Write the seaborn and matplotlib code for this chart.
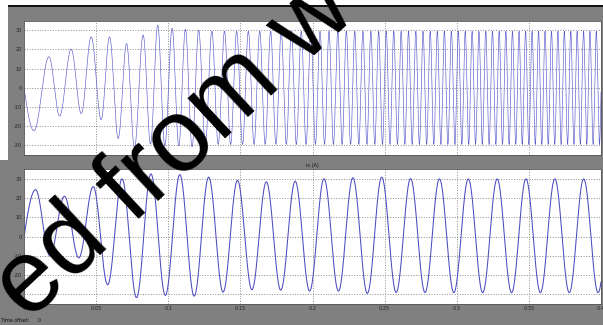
import numpy as np
import pandas as pd
import matplotlib
matplotlib.use("Agg")
import matplotlib.pyplot as plt
from matplotlib.patches import Rectangle
import seaborn as sns

# ---------------- data ----------------
# Top trace: extrema (time s, value) of the first cycles
top_ext_t = [0.0069, 0.0173, 0.0247, 0.0327, 0.0397, 0.0466, 0.0535, 0.0593,
             0.0653, 0.0711, 0.0766, 0.0826, 0.0877, 0.0927, 0.0976, 0.1027,
             0.1073, 0.1119, 0.1165, 0.1211]
top_ext_v = [-22.4, 16.2, -14.7, 20.2, -13.4, 26.6, -16.6, 26.6,
             -26.4, 23.1, -31.0, 27.6, -29.3, 32.6, -30.2, 31.0,
             -30.2, 30.5, -30.7, 30.0]
# Top trace, later part: oscillation period read at several times
top_period_t = [0.1211, 0.15, 0.20, 0.25, 0.30, 0.35, 0.40]
top_period_s = [0.0092, 0.0081, 0.0064, 0.0052, 0.0048, 0.0045, 0.0044]
top_late_peak = 29.5
top_late_trough = -29.5

# Bottom trace (is): 50 Hz, peak / trough values of each cycle
bot_first_peak_t = 0.008
bot_period = 0.02
bot_peaks = [24.4, 21.0, 26.0, 30.0, 32.6, 32.2, 30.9, 29.2, 28.5, 28.8,
             30.1, 30.6, 30.9, 30.2, 30.0, 30.0, 30.0, 30.0, 30.0, 30.0]
bot_troughs = [-10.0, -11.0, -25.0, -31.7, -30.5, -30.9, -28.8, -27.6, -27.8, -28.3,
               -28.3, -29.5, -29.0, -29.0, -29.1, -29.1, -29.1, -29.1, -29.1, -29.1]

x_ticks = [0, 0.05, 0.1, 0.15, 0.2, 0.25, 0.3, 0.35, 0.4]
x_tick_labels = ["0", "0.05", "0.1", "0.15", "0.2", "0.25", "0.3", "0.35", "0.4"]
y_ticks = [-30, -20, -10, 0, 10, 20, 30]
bottom_title = "is (A)"

# ---------------- build traces through the extrema ----------------
def trace_through_extrema(ext_t, ext_v, t):
    ext_t = np.asarray(ext_t); ext_v = np.asarray(ext_v)
    y = np.zeros_like(t)
    m = t <= ext_t[0]
    y[m] = ext_v[0] * np.sin(0.5 * np.pi * t[m] / ext_t[0])
    for i in range(len(ext_t) - 1):
        a, b = ext_t[i], ext_t[i + 1]
        m = (t > a) & (t <= b)
        u = (t[m] - a) / (b - a)
        y[m] = ext_v[i] + (ext_v[i + 1] - ext_v[i]) * (1 - np.cos(np.pi * u)) / 2
    m = t > ext_t[-1]
    y[m] = ext_v[-1]
    return y

tt = list(top_ext_t); tv = list(top_ext_v)
while tt[-1] < 0.41:
    p = np.interp(tt[-1], top_period_t, top_period_s)
    tt.append(tt[-1] + p / 2)
    tv.append(top_late_trough if tv[-1] > 0 else top_late_peak)

bt, bv = [], []
for k in range(len(bot_peaks)):
    bt += [bot_first_peak_t + k * bot_period, bot_first_peak_t + k * bot_period + bot_period / 2]
    bv += [bot_peaks[k], bot_troughs[k]]
bt.append(bt[-1] + bot_period / 2); bv.append(bot_peaks[-1])

t = np.linspace(0, 0.4, 12000)
df_top = pd.DataFrame({"t": t, "v": trace_through_extrema(tt, tv, t)})
df_bot = pd.DataFrame({"t": t, "v": trace_through_extrema(bt, bv, t)})

# ---------------- figure ----------------
sns.set_theme(style="white")
plt.rcParams['font.family'] = ['DejaVu Sans']

W, H = 603, 325
fig = plt.figure(figsize=(W / 100, H / 100), dpi=100, facecolor="#808080")

fig.patches.append(Rectangle((0, 1 - 4.5 / H), 1, 4.5 / H, transform=fig.transFigure,
                             facecolor="white", edgecolor="none", zorder=0))
fig.patches.append(Rectangle((0, 1 - 160 / H), 7.5 / W, 160 / H, transform=fig.transFigure,
                             facecolor="white", edgecolor="none", zorder=0))
fig.patches.append(Rectangle((7.5 / W, 1 - 7 / H), 1, 2.5 / H, transform=fig.transFigure,
                             facecolor="#111111", edgecolor="none", zorder=0))

ax1 = fig.add_axes([24 / W, 1 - 155 / H, 577 / W, 134.3 / H])
ax2 = fig.add_axes([24 / W, 1 - 304 / H, 577 / W, 134.7 / H])

sns.lineplot(data=df_top, x="t", y="v", ax=ax1, color="#5a5ace", linewidth=0.45,
             estimator=None, sort=False)
sns.lineplot(data=df_bot, x="t", y="v", ax=ax2, color="#4c4cc2", linewidth=0.75,
             estimator=None, sort=False)

for ax in (ax1, ax2):
    ax.set_facecolor("white")
    ax.set_xlim(0, 0.4)
    ax.set_ylim(-35, 35)
    ax.set_xticks(x_ticks)
    ax.set_yticks(y_ticks)
    ax.set_yticklabels([str(v) for v in y_ticks])
    ax.set_xlabel("")
    ax.set_ylabel("")
    ax.grid(True, linestyle=":", color="#8a8a8a", linewidth=0.7)
    ax.tick_params(axis="both", labelsize=3.6, length=2, width=0.5, pad=1.5,
                   colors="#222222", direction="in")
    for s in ax.spines.values():
        s.set_color("#555555")
        s.set_linewidth(0.6)

ax1.set_xticklabels([])
ax2.set_xticklabels(x_tick_labels)
ax2.set_title(bottom_title, fontsize=3.6, pad=2, color="#111111")

fig.text(1 / W, 1 - 320 / H, "Time offset:", fontsize=3.4, color="#111111", va="center")
fig.text(38 / W, 1 - 320 / H, "0", fontsize=3.4, color="#111111", va="center")

# watermark
fig.text(28 / W, 1 - 322 / H, "ed from w", fontsize=74, color="black",
         family="Liberation Sans", rotation=43, rotation_mode="anchor",
         ha="left", va="baseline", zorder=10)

fig.savefig("out.png", dpi=100, facecolor=fig.get_facecolor())
